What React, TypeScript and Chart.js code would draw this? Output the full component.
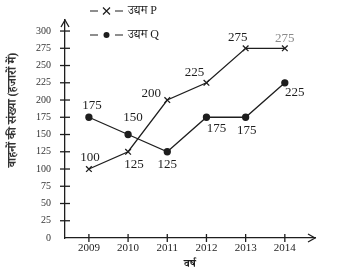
import React, { useEffect, useRef } from "react";
import { Chart, registerables } from "chart.js";

Chart.register(...registerables);

const years = [2009, 2010, 2011, 2012, 2013, 2014];
const seriesP = [100, 125, 200, 225, 275, 275];
const seriesQ = [175, 150, 125, 175, 175, 225];
const yTickValues = [0, 25, 50, 75, 100, 125, 150, 175, 200, 225, 250, 275, 300];
const legendP = "उद्यम P";
const legendQ = "उद्यम Q";
const yTitle = "वाहनों की संख्या (हजारों में)";
const xTitle = "वर्ष";

// label offsets (style only)
const offsetsP = [[1, -11], [6, 13], [-16, -6], [-12, -10], [-8, -11], [0, -10]];
const offsetsQ = [[3, -12], [5, -17], [0, 13], [10, 11], [1, 13], [10, 10]];

const SERIF = "'Liberation Serif', 'Noto Serif Devanagari', 'Noto Sans Devanagari', serif";
const INK = "#1e1e1e";

const decorPlugin = {
  id: "decor",
  afterDraw(chart: any) {
    const ctx = chart.ctx;
    const xs = chart.scales.x;
    const ys = chart.scales.y;
    const area = chart.chartArea;
    ctx.save();
    ctx.strokeStyle = INK;
    ctx.fillStyle = INK;
    ctx.lineWidth = 1.3;
    // y tick marks crossing axis
    ys.ticks.forEach((t: any) => {
      if (t.value === 0) return;
      const py = ys.getPixelForValue(t.value);
      ctx.beginPath();
      ctx.moveTo(area.left - 5, py);
      ctx.lineTo(area.left + 5, py);
      ctx.stroke();
    });
    xs.ticks.forEach((t: any) => {
      const px = xs.getPixelForValue(t.value);
      ctx.beginPath();
      ctx.moveTo(px, area.bottom - 4);
      ctx.lineTo(px, area.bottom + 4);
      ctx.stroke();
    });
    // arrows
    ctx.beginPath();
    ctx.moveTo(area.left - 4, area.top + 7);
    ctx.lineTo(area.left, area.top);
    ctx.lineTo(area.left + 4, area.top + 7);
    ctx.stroke();
    ctx.beginPath();
    ctx.moveTo(area.right - 7, area.bottom - 4);
    ctx.lineTo(area.right, area.bottom);
    ctx.lineTo(area.right - 7, area.bottom + 4);
    ctx.stroke();

    // y title
    ctx.save();
    ctx.translate(13, 110);
    ctx.rotate(-Math.PI / 2);
    ctx.font = `bold 12px ${SERIF}`;
    ctx.textAlign = "center";
    ctx.textBaseline = "middle";
    ctx.fillStyle = "#333";
    ctx.fillText(yTitle, 0, 0);
    ctx.restore();

    // data labels
    ctx.font = `13px ${SERIF}`;
    ctx.textAlign = "center";
    ctx.textBaseline = "middle";
    const drawLabels = (vals: number[], offs: number[][], faded: number) => {
      vals.forEach((v, i) => {
        const px = xs.getPixelForValue(years[i]);
        const py = ys.getPixelForValue(v);
        ctx.fillStyle = i === faded ? "#8a8a8a" : INK;
        ctx.fillText(String(v), px + offs[i][0], py + offs[i][1]);
      });
    };
    drawLabels(seriesP, offsetsP, 5);
    drawLabels(seriesQ, offsetsQ, -1);

    // legend
    ctx.fillStyle = INK;
    ctx.strokeStyle = INK;
    ctx.lineWidth = 1.2;
    const legendRow = (y: number, marker: string, text: string) => {
      ctx.beginPath();
      ctx.moveTo(90, y);
      ctx.lineTo(98, y);
      ctx.moveTo(115, y);
      ctx.lineTo(123, y);
      ctx.stroke();
      if (marker === "x") {
        ctx.beginPath();
        ctx.moveTo(103, y - 3.5);
        ctx.lineTo(110, y + 3.5);
        ctx.moveTo(110, y - 3.5);
        ctx.lineTo(103, y + 3.5);
        ctx.stroke();
      } else {
        ctx.beginPath();
        ctx.arc(106.5, y, 3, 0, Math.PI * 2);
        ctx.fill();
      }
      ctx.font = `12px ${SERIF}`;
      ctx.textAlign = "left";
      ctx.fillText(text, 128, y);
    };
    legendRow(11, "x", legendP);
    legendRow(35, "o", legendQ);
    ctx.restore();
  },
};

export default function App() {
  const ref = useRef<HTMLCanvasElement>(null);
  useEffect(() => {
    document.body.style.margin = "0";
    const chart = new Chart(ref.current as HTMLCanvasElement, {
      type: "line",
      data: {
        datasets: [
          {
            label: legendP,
            data: years.map((y, i) => ({ x: y, y: seriesP[i] })),
            borderColor: INK,
            backgroundColor: INK,
            borderWidth: 1.3,
            pointStyle: "crossRot",
            pointRadius: 4,
            pointBorderWidth: 1.3,
          },
          {
            label: legendQ,
            data: years.map((y, i) => ({ x: y, y: seriesQ[i] })),
            borderColor: INK,
            backgroundColor: INK,
            borderWidth: 1.3,
            pointStyle: "circle",
            pointRadius: 3,
          },
        ],
      },
      options: {
        responsive: false,
        animation: false,
        layout: { padding: { top: 3, right: 40, left: 0, bottom: 0 } },
        plugins: { legend: { display: false }, tooltip: { enabled: false } },
        scales: {
          x: {
            type: "linear",
            min: 2008.39,
            max: 2014.77,
            afterBuildTicks: (s: any) => {
              s.ticks = years.map((v) => ({ value: v }));
            },
            afterFit: (s: any) => {
              s.height = 35;
            },
            grid: { display: false, drawTicks: false },
            border: { display: true, color: INK, width: 1.3 },
            ticks: {
              color: INK,
              padding: 4,
              font: { family: SERIF, size: 11 },
              callback: (v: any) => String(v),
            },
            title: {
              display: true,
              text: xTitle,
              color: INK,
              font: { family: SERIF, size: 11, weight: "bold" },
              padding: { top: 2, bottom: 2 },
            },
          },
          y: {
            type: "linear",
            min: 0,
            max: 316,
            afterBuildTicks: (s: any) => {
              s.ticks = yTickValues.map((v) => ({ value: v }));
            },
            afterFit: (s: any) => {
              s.width = 65;
            },
            grid: { display: false, drawTicks: false },
            border: { display: true, color: INK, width: 1.3 },
            ticks: {
              color: "#333",
              padding: 14,
              font: { family: SERIF, size: 10 },
            },
            title: { display: false },
          },
        },
      },
      plugins: [decorPlugin],
    } as any);
    return () => chart.destroy();
  }, []);
  return <canvas ref={ref} width={355} height={273} />;
}
